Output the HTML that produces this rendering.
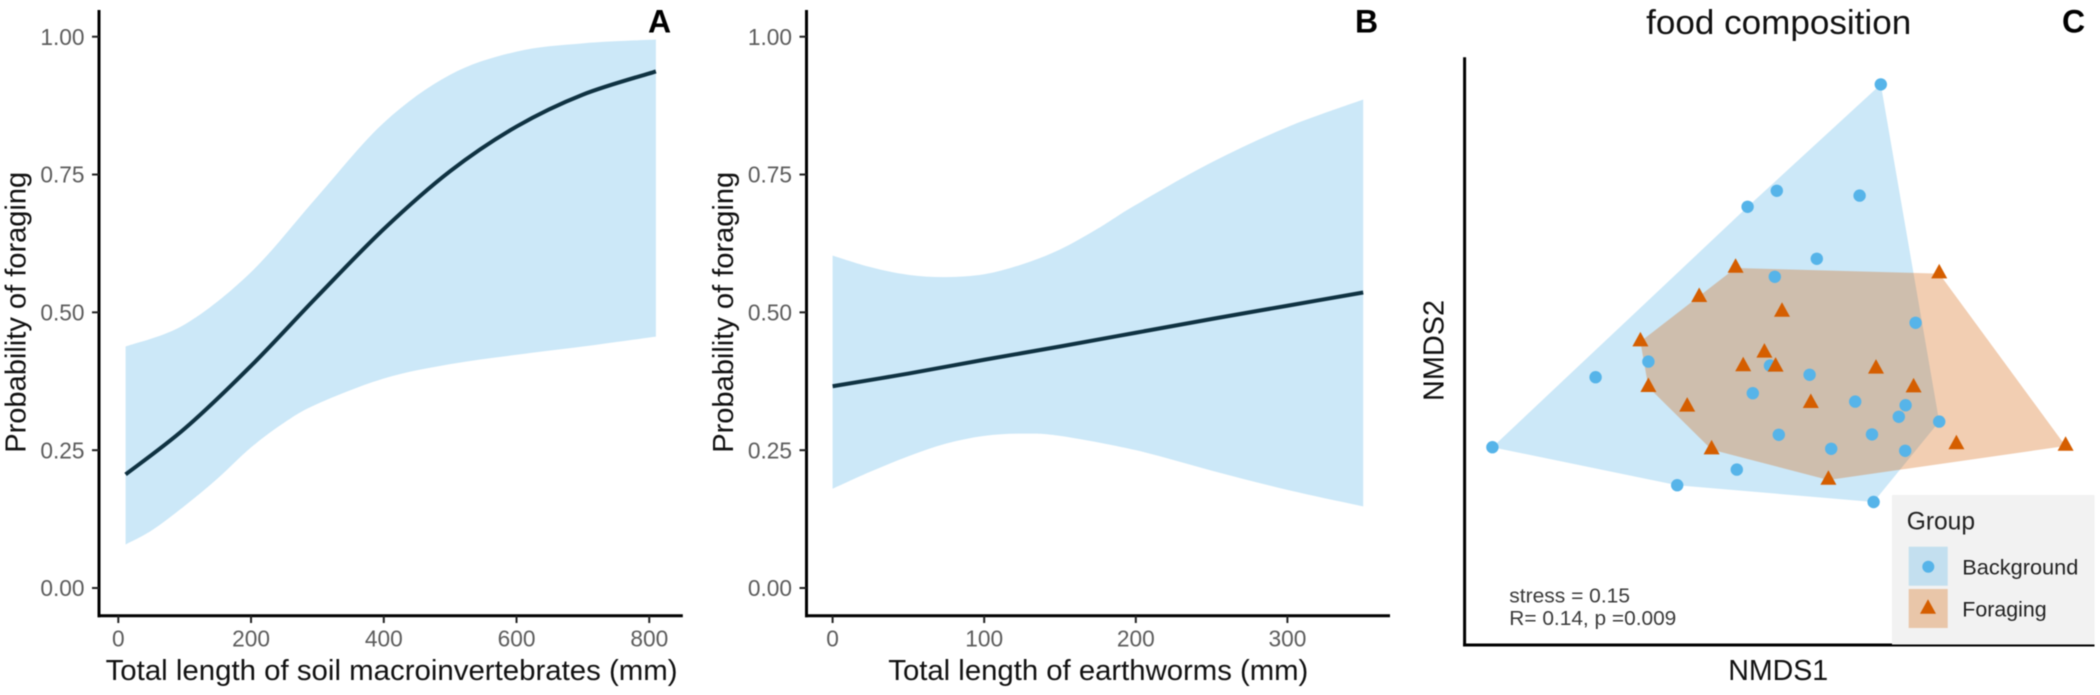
<!DOCTYPE html>
<html lang="en">
<head>
<meta charset="utf-8">
<title>Probability of foraging and food composition</title>
<style>
html,body{margin:0;padding:0;background:#fff;width:2100px;height:695px;overflow:hidden}
svg{display:block;filter:blur(0.4px)}
text{font-family:"Liberation Sans",Arial,sans-serif}
</style>
</head>
<body>
<svg id="chart" xmlns="http://www.w3.org/2000/svg" width="2100" height="695" viewBox="0 0 2100 695">
  <rect x="0" y="0" width="2100" height="695" fill="#ffffff"/>
  <g id="panelA"></g>
  <g id="panelB"></g>
  <g id="panelC"></g>

  <text x="648" y="32.3" font-size="32" font-weight="700" fill="#000">A</text>
  <text x="1355" y="32.3" font-size="32" font-weight="700" fill="#000">B</text>
  <text x="2062" y="32.3" font-size="32" font-weight="700" fill="#000">C</text>

  <text transform="translate(25.4,312.3) rotate(-90)" text-anchor="middle" font-size="29" fill="#111" textLength="281" lengthAdjust="spacingAndGlyphs">Probability of foraging</text>
  <text x="391.6" y="680" text-anchor="middle" font-size="29" fill="#111" textLength="572" lengthAdjust="spacingAndGlyphs">Total length of soil macroinvertebrates (mm)</text>
  <text transform="translate(733,312.3) rotate(-90)" text-anchor="middle" font-size="29" fill="#111" textLength="281" lengthAdjust="spacingAndGlyphs">Probability of foraging</text>
  <text x="1098.3" y="680" text-anchor="middle" font-size="29" fill="#111" textLength="420" lengthAdjust="spacingAndGlyphs">Total length of earthworms (mm)</text>

  <text x="1778.7" y="34" text-anchor="middle" font-size="34" fill="#111" textLength="265" lengthAdjust="spacingAndGlyphs">food composition</text>
  <text transform="translate(1443.3,350.5) rotate(-90)" text-anchor="middle" font-size="29" fill="#111" textLength="101" lengthAdjust="spacingAndGlyphs">NMDS2</text>
  <text x="1778.2" y="680" text-anchor="middle" font-size="29" fill="#111" textLength="100" lengthAdjust="spacingAndGlyphs">NMDS1</text>
  <text x="1509.3" y="602.7" font-size="20" fill="#3a3a3a" textLength="120.7" lengthAdjust="spacingAndGlyphs">stress = 0.15</text>
  <text x="1509.3" y="625" font-size="20" fill="#3a3a3a" textLength="167" lengthAdjust="spacingAndGlyphs">R= 0.14, p =0.009</text>

  <g>
    <rect x="1892" y="495" width="202.5" height="149.5" fill="#f2f2f2"/>
    <text x="1906.7" y="529.3" font-size="24.6" fill="#222">Group</text>
    <g>
      <rect x="1908.7" y="546.7" width="39" height="39" fill="#c3dfef"/>
      <circle cx="1928.3" cy="566.7" r="6" fill="#56B4E9"/>
      <text x="1962.3" y="574.3" font-size="21.6" fill="#222" textLength="116" lengthAdjust="spacingAndGlyphs">Background</text>
    </g>
    <g>
      <rect x="1908.7" y="589" width="39" height="39" fill="#e9c6a9"/>
      <polygon points="1928,599.3 1936,613.7 1920,613.7" fill="#D55E00"/>
      <text x="1962.3" y="616.7" font-size="21.4" fill="#222" textLength="84.3" lengthAdjust="spacingAndGlyphs">Foraging</text>
    </g>
  </g>
</svg>
<script>
// Shared y ticks for the probability panels
const probTicks = [0, 0.25, 0.5, 0.75, 1];
const probTickLabels = ["0.00", "0.25", "0.50", "0.75", "1.00"];

// Panel A: soil macroinvertebrates
const aTicks = [0, 200, 400, 600, 800];
const aUpperX = [11, 100, 200, 300, 400, 500, 600, 700, 810];
const aUpper = [0.438, 0.478, 0.573, 0.710, 0.844, 0.931, 0.973, 0.988, 0.995];
const aLowerX = [11, 51, 100, 150, 200, 250, 300, 400, 500, 600, 700, 810];
const aLower = [0.079, 0.105, 0.149, 0.199, 0.255, 0.300, 0.334, 0.380, 0.406, 0.423, 0.438, 0.456];
const aLineX = [11, 100, 200, 300, 400, 500, 600, 700, 810];
const aLine = [0.206, 0.289, 0.403, 0.529, 0.651, 0.756, 0.837, 0.895, 0.937];

// Panel B: earthworms
const bTicks = [0, 100, 200, 300];
const bUpperX = [0, 25, 50, 75, 100, 125, 150, 175, 200, 250, 300, 350];
const bUpper = [0.603, 0.582, 0.568, 0.564, 0.569, 0.587, 0.614, 0.652, 0.695, 0.772, 0.836, 0.886];
const bLowerX = [0, 25, 50, 75, 100, 125, 150, 200, 250, 300, 350];
const bLower = [0.180, 0.211, 0.239, 0.262, 0.276, 0.280, 0.276, 0.250, 0.213, 0.178, 0.148];
const bLineX = [0, 50, 100, 150, 200, 250, 300, 350];
const bLine = [0.366, 0.389, 0.414, 0.438, 0.463, 0.488, 0.512, 0.536];

// Panel C: NMDS scores
const backgroundNmds1 = [0.252, -0.008, -0.081, 0.199, 0.092, -0.013, 0.339, -0.329, -0.025, 0.074, -0.068, 0.188, 0.314, 0.297, 0.398, -0.003, 0.230, 0.128, 0.313, -0.108, -0.257, 0.234, -0.461, -0.719];
const backgroundNmds2 = [0.739, 0.473, 0.433, 0.461, 0.303, 0.258, 0.143, 0.046, 0.036, 0.013, -0.033, -0.054, -0.063, -0.092, -0.104, -0.137, -0.136, -0.172, -0.177, -0.224, -0.263, -0.305, 0.007, -0.168];
const foragingNmds1 = [-0.111, -0.202, 0.005, -0.349, -0.039, -0.092, -0.011, 0.240, 0.334, -0.329, 0.077, -0.232, -0.171, 0.121, 0.398, 0.441, 0.714];
const foragingNmds2 = [0.280, 0.207, 0.170, 0.096, 0.068, 0.034, 0.033, 0.028, -0.019, -0.018, -0.058, -0.067, -0.174, -0.250, 0.266, -0.161, -0.165];

const NS = "http://www.w3.org/2000/svg";
const BLUE = "#56B4E9";
const ORANGE = "#D55E00";

function make(parent, tag, attrs) {
  const el = document.createElementNS(NS, tag);
  for (const k in attrs) el.setAttribute(k, attrs[k]);
  parent.appendChild(el);
  return el;
}

// Axis functions
function yProb(v) { return 588 - 551.3 * v; }
function xA(v) { return 118.3 + 0.6637 * v; }
function xB(v) { return 832.6 + 1.516 * v; }
function xN(v) { return 1780 + 400 * v; }
function yN(v) { return 380 - 400 * v; }

function points(xs, ys, fx, fy) {
  return xs.map(function (x, i) { return [fx(x), fy(ys[i])]; });
}

function spline(pts, lead) {
  let d = lead + pts[0][0].toFixed(2) + " " + pts[0][1].toFixed(2);
  for (let i = 0; i < pts.length - 1; i++) {
    const p0 = pts[Math.max(i - 1, 0)];
    const p1 = pts[i];
    const p2 = pts[i + 1];
    const p3 = pts[Math.min(i + 2, pts.length - 1)];
    const c1x = p1[0] + (p2[0] - p0[0]) / 6;
    const c1y = p1[1] + (p2[1] - p0[1]) / 6;
    const c2x = p2[0] - (p3[0] - p1[0]) / 6;
    const c2y = p2[1] - (p3[1] - p1[1]) / 6;
    d += " C" + c1x.toFixed(2) + " " + c1y.toFixed(2) + " " + c2x.toFixed(2) + " " + c2y.toFixed(2) + " " + p2[0].toFixed(2) + " " + p2[1].toFixed(2);
  }
  return d;
}

function convexHull(pts) {
  const s = pts.slice().sort(function (a, b) { return a[0] - b[0] || a[1] - b[1]; });
  const cross = function (o, a, b) { return (a[0] - o[0]) * (b[1] - o[1]) - (a[1] - o[1]) * (b[0] - o[0]); };
  const lower = [];
  for (const p of s) {
    while (lower.length >= 2 && cross(lower[lower.length - 2], lower[lower.length - 1], p) <= 0) lower.pop();
    lower.push(p);
  }
  const upper = [];
  for (const p of s.slice().reverse()) {
    while (upper.length >= 2 && cross(upper[upper.length - 2], upper[upper.length - 1], p) <= 0) upper.pop();
    upper.push(p);
  }
  return lower.slice(0, -1).concat(upper.slice(0, -1));
}

function drawProbPanel(g, axisX, axisEnd, fx, xTicks, upX, up, loX, lo, lnX, ln) {
  const upperPts = points(upX, up, fx, yProb);
  const lowerPts = points(loX, lo, fx, yProb).reverse();
  const ribbon = make(g, "path", {
    d: spline(upperPts, "M") + " L" + lowerPts[0][0].toFixed(2) + " " + lowerPts[0][1].toFixed(2) + spline(lowerPts, " M").replace(/^ M[^C]*/, " ") + " Z",
    fill: BLUE, "fill-opacity": 0.3
  });
  
  

  const line = make(g, "path", {
    d: spline(points(lnX, ln, fx, yProb), "M"),
    fill: "none", stroke: "#0f3242", "stroke-width": 4
  });
  
  

  const yAxis = make(g, "line", { x1: axisX, x2: axisX, y1: 10, y2: 617.2, stroke: "#000", "stroke-width": 3 });
  
  
  const xAxis = make(g, "line", { x1: axisX - 1.5, x2: axisEnd, y1: 615.7, y2: 615.7, stroke: "#000", "stroke-width": 3 });
  
  

  probTicks.forEach(function (t, i) {
    const tick = make(g, "line", { x1: axisX - 7, x2: axisX, y1: yProb(t), y2: yProb(t), stroke: "#222", "stroke-width": 2 });
    
    
    const label = make(g, "text", { x: axisX - 14.5, y: yProb(t) + 8.2, "text-anchor": "end", "font-size": 22.7, fill: "#5c5c5c" });
    
    
    label.textContent = probTickLabels[i];
  });
  xTicks.forEach(function (t) {
    const tick = make(g, "line", { x1: fx(t), x2: fx(t), y1: 615.7, y2: 623, stroke: "#222", "stroke-width": 2 });
    
    
    const label = make(g, "text", { x: fx(t), y: 646.7, "text-anchor": "middle", "font-size": 22.7, fill: "#5c5c5c" });
    
    
    label.textContent = String(t);
  });
}

drawProbPanel(document.getElementById("panelA"), 99, 682.8, xA, aTicks, aUpperX, aUpper, aLowerX, aLower, aLineX, aLine);
drawProbPanel(document.getElementById("panelB"), 806.5, 1390, xB, bTicks, bUpperX, bUpper, bLowerX, bLower, bLineX, bLine);

(function drawNmds() {
  const g = document.getElementById("panelC");
  const bgPts = points(backgroundNmds1, backgroundNmds2, xN, yN);
  const fgPts = points(foragingNmds1, foragingNmds2, xN, yN);

  const bgHull = make(g, "polygon", {
    points: convexHull(bgPts).map(function (p) { return p[0].toFixed(1) + "," + p[1].toFixed(1); }).join(" "),
    fill: BLUE, "fill-opacity": 0.3
  });
  
  

  const fgHull = make(g, "polygon", {
    points: convexHull(fgPts).map(function (p) { return p[0].toFixed(1) + "," + p[1].toFixed(1); }).join(" "),
    fill: ORANGE, "fill-opacity": 0.3
  });
  
  

  bgPts.forEach(function (p) {
    const c = make(g, "circle", { cx: p[0], cy: p[1], r: 6.2, fill: BLUE });
    
    
  });
  fgPts.forEach(function (p) {
    const t = make(g, "polygon", {
      points: p[0] + "," + (p[1] - 9.7) + " " + (p[0] + 8) + "," + (p[1] + 4.8) + " " + (p[0] - 8) + "," + (p[1] + 4.8),
      fill: ORANGE
    });
    
    
  });

  const yAxis = make(g, "line", { x1: 1464.6, x2: 1464.6, y1: 57.3, y2: 646.5, stroke: "#000", "stroke-width": 3 });
  
  
  const xAxis = make(g, "line", { x1: 1463.1, x2: 2094.5, y1: 645, y2: 645, stroke: "#000", "stroke-width": 3 });
  
  
})();
</script>
</body>
</html>
